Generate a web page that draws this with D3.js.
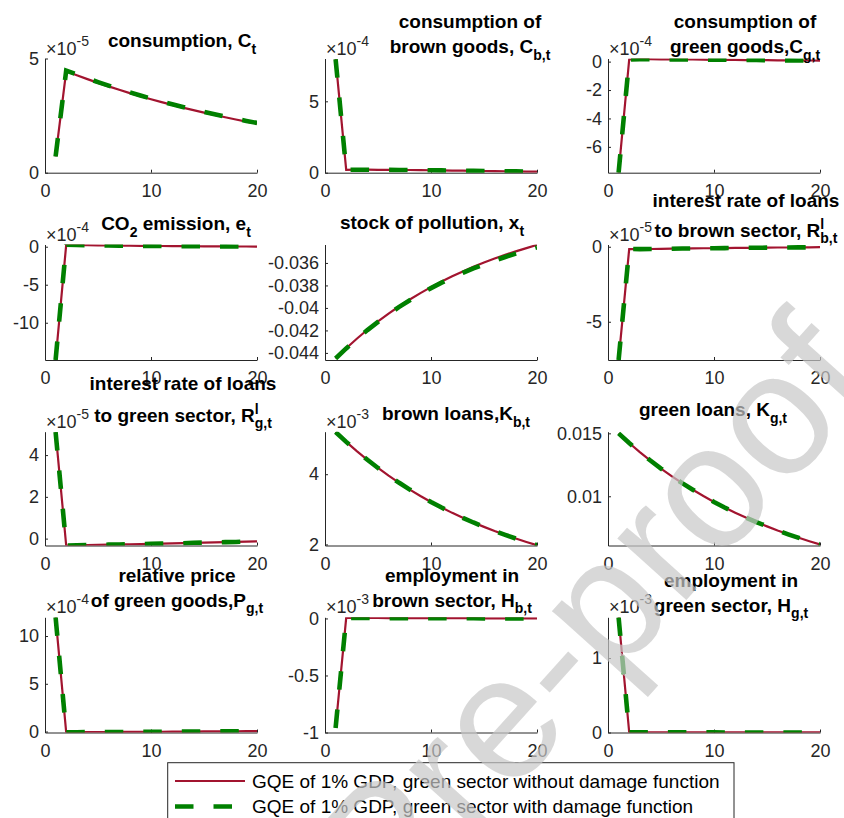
<!DOCTYPE html>
<html><head><meta charset="utf-8">
<script src="https://cdn.jsdelivr.net/npm/d3@7"></script>
<style>body{margin:0;background:#fff}svg{display:block}</style>
</head><body>
<script>
// ---------------- data ----------------
const periods = [1,2,3,4,5,6,7,8,9,10,11,12,13,14,15,16,17,18,19,20];
const xTicks = [0,10,20];

// consumption C_t (x1e-5)
const consNoDmg  = [0.71,4.44,4.265,4.096,3.934,3.779,3.630,3.486,3.349,3.216,3.089,2.967,2.850,2.737,2.629,2.525,2.426,2.330,2.238,2.150];
const consDmg    = [0.71,4.47,4.300,4.130,3.968,3.812,3.662,3.518,3.380,3.247,3.119,2.997,2.880,2.767,2.659,2.555,2.456,2.360,2.268,2.180];
// consumption of brown goods (x1e-4)
const consBrown  = [7.95,0.20,0.21,0.21,0.20,0.20,0.19,0.19,0.18,0.17,0.16,0.15,0.14,0.13,0.12,0.11,0.10,0.09,0.08,0.07];
// consumption of green goods (x1e-4)
const consGreen  = [-7.82,0.15,0.17,0.17,0.16,0.16,0.15,0.15,0.14,0.13,0.13,0.12,0.11,0.11,0.10,0.09,0.09,0.08,0.08,0.07];
// CO2 emission (x1e-4)
const emission   = [-14.9,0.25,0.22,0.20,0.18,0.16,0.14,0.13,0.11,0.10,0.09,0.08,0.07,0.06,0.05,0.05,0.04,0.03,0.03,0.02];
// stock of pollution
const pollNoDmg  = [-0.04450,-0.04359,-0.04274,-0.04194,-0.04120,-0.04050,-0.03985,-0.03925,-0.03868,-0.03815,-0.03765,-0.03719,-0.03675,-0.03634,-0.03596,-0.03561,-0.03528,-0.03497,-0.03468,-0.03440];
const pollDmg    = [-0.04450,-0.04360,-0.04276,-0.04197,-0.04124,-0.04055,-0.03991,-0.03932,-0.03876,-0.03824,-0.03775,-0.03730,-0.03688,-0.03649,-0.03613,-0.03579,-0.03547,-0.03517,-0.03489,-0.03462];
// interest rate of loans to brown sector (x1e-5)
const rateBrown  = [-7.55,-0.15,-0.16,-0.15,-0.14,-0.13,-0.12,-0.11,-0.10,-0.10,-0.09,-0.08,-0.07,-0.07,-0.06,-0.05,-0.05,-0.04,-0.04,-0.03];
// interest rate of loans to green sector (x1e-5)
const rateGreen  = [5.10,-0.33,-0.32,-0.31,-0.30,-0.29,-0.28,-0.27,-0.26,-0.25,-0.24,-0.23,-0.22,-0.20,-0.19,-0.18,-0.17,-0.16,-0.14,-0.13];
// brown loans (x1e-3)
const loansBrown = [5.200,4.920,4.658,4.411,4.178,3.960,3.755,3.562,3.381,3.210,3.050,2.899,2.758,2.625,2.500,2.382,2.272,2.168,2.070,1.978];
// green loans
const loansGreen = [0.01500,0.01423,0.01351,0.01284,0.01220,0.01160,0.01104,0.01052,0.01002,0.00955,0.00911,0.00870,0.00831,0.00795,0.00761,0.00728,0.00698,0.00670,0.00643,0.00618];
// relative price of green goods (x1e-4)
const priceGreen = [11.95,-0.08,-0.07,-0.06,-0.06,-0.05,-0.04,-0.04,-0.03,-0.02,-0.02,-0.01,-0.01,0.00,0.01,0.01,0.02,0.03,0.04,0.05];
// employment in brown sector (x1e-3)
const empBrown   = [-0.96,0.005,0.004,0.004,0.004,0.003,0.003,0.003,0.003,0.002,0.002,0.002,0.002,0.002,0.001,0.001,0.001,0.001,0.001,0.001];
// employment in green sector (x1e-3)
const empGreen   = [1.545,0.003,0.003,0.003,0.002,0.002,0.002,0.002,0.002,0.002,0.001,0.001,0.001,0.001,0.001,0.001,0.001,0.001,0.001,0.001];

const legendLabels = ["GQE of 1% GDP, green sector without damage function",
                      "GQE of 1% GDP, green sector with damage function"];

// panel definitions: series, y limits, y ticks, exponent, title
const panels = [
  {red:consNoDmg, green:consDmg,  dom:[0,5],            ticks:[0,5],          exp:"-5",
   title:[[["consumption, C"],["t","sub"]]]},
  {red:consBrown, green:consBrown, dom:[0,8.0],         ticks:[0,5],          exp:"-4",
   title:[[["consumption of"]],[["brown goods, C"],["b,t","sub"]]]},
  {red:consGreen, green:consGreen, dom:[-7.82,0.22],    ticks:[-6,-4,-2,0],   exp:"-4",
   title:[[["consumption of"]],[["green goods,C"],["g,t","sub"]]]},
  {red:emission,  green:emission,  dom:[-14.9,0.29],    ticks:[-10,-5,0],     exp:"-4",
   title:[[["CO"],["2","sub"],[" emission, e"],["t","sub"]]]},
  {red:pollNoDmg, green:pollDmg,   dom:[-0.04463,-0.03436], ticks:[-0.044,-0.042,-0.04,-0.038,-0.036], exp:null,
   title:[[["stock of pollution, x"],["t","sub"]]]},
  {red:rateBrown, green:rateBrown, dom:[-7.55,0.15],    ticks:[-5,0],         exp:"-5",
   title:[[["interest rate of loans"]],[["to brown sector, R"],["l","sup"],["b,t","subafter"]]]},
  {red:rateGreen, green:rateGreen, dom:[-0.33,5.12],    ticks:[0,2,4],        exp:"-5",
   title:[[["interest rate of loans"]],[["to green sector, R"],["l","sup"],["g,t","subafter"]]]},
  {red:loansBrown,green:loansBrown,dom:[1.97,5.21],     ticks:[2,4],          exp:"-3",
   title:[[["brown loans,K"],["b,t","sub"]]]},
  {red:loansGreen,green:loansGreen,dom:[0.00609,0.01513],ticks:[0.01,0.015],  exp:null,
   title:[[["green loans, K"],["g,t","sub"]]]},
  {red:priceGreen,green:priceGreen,dom:[-0.1,11.96],    ticks:[0,5,10],       exp:"-4",
   title:[[["relative price"]],[["of green goods,P"],["g,t","sub"]]]},
  {red:empBrown,  green:empBrown,  dom:[-1.0,0.01],     ticks:[-1,-0.5,0],    exp:"-3",
   title:[[["employment in"]],[["brown sector, H"],["b,t","sub"]]]},
  {red:empGreen,  green:empGreen,  dom:[0,1.547],       ticks:[0,1],          exp:"-3",
   title:[[["employment in"]],[["green sector, H"],["g,t","sub"]]]}
];

// ---------------- layout ----------------
const colX = [45, 325, 608], plotW = 212;
const rowTop = [58.5, 244.5, 431.7, 617.3];
const rowBot = [172.7, 360, 545.5, 732.5];
const titlePos = [
  [182,[47.3]], [470,[28.3,53.3]], [745,[28.3,53.3]],
  [176,[230]],  [432,[229]],       [746,[206.7,236.7]],
  [183,[390,421.7]], [456,[420]],  [713,[416]],
  [177,[581.7,606.7]], [452,[581.7,606.7]], [731,[586.7,611.7]]
];
const RED = "#A2142F", GREEN = "#008000", AX = "#262626";
const FONT = "'Liberation Sans', Arial, Helvetica, sans-serif";

const svg = d3.select("body").append("svg").attr("width",844).attr("height",818)
  .attr("font-family", FONT);
const defs = svg.append("defs");

function richText(sel, segs, size, subSize){
  let off = 0;
  segs.forEach(([txt, kind], k) => {
    const t = sel.append("tspan").text(txt);
    if (kind === "sub") { t.attr("font-size", subSize).attr("dy", 6.5 - off); off = 6.5; }
    else if (kind === "sup") { t.attr("font-size", subSize).attr("dy", -8 - off); off = -8; }
    else if (kind === "subafter") { t.attr("font-size", subSize).attr("dy", 6.5 - off).attr("dx", -subSize*0.278); off = 6.5; }
    else { t.attr("font-size", size); if (off !== 0) { t.attr("dy", -off); off = 0; } }
  });
}

panels.forEach((p, i) => {
  const c = i % 3, r = Math.floor(i / 3);
  const x0 = colX[c], x1 = x0 + plotW, y0 = rowTop[r], y1 = rowBot[r];
  const x = d3.scaleLinear().domain([0,20]).range([x0,x1]);
  const y = d3.scaleLinear().domain(p.dom).range([y1,y0]);

  // axes
  const gx = svg.append("g").attr("transform",`translate(0,${y1})`)
    .call(d3.axisBottom(x).tickValues(xTicks).tickSizeInner(-3).tickSizeOuter(0).tickPadding(11.7).tickFormat(d3.format("d")));
  const gy = svg.append("g").attr("transform",`translate(${x0},0)`)
    .call(d3.axisLeft(y).tickValues(p.ticks).tickSizeInner(-3).tickSizeOuter(0).tickPadding(6).tickFormat(d => String(d)));
  [gx, gy].forEach(g => {
    g.attr("font-family", FONT).attr("font-size", 18);
    g.selectAll("path.domain").attr("stroke", AX).attr("stroke-width", 1);
    g.selectAll("line").attr("stroke", AX).attr("stroke-width", 1);
    g.selectAll("text").attr("fill", AX);
  });

  // clip & lines
  const cid = "clip" + i;
  defs.append("clipPath").attr("id", cid).append("rect")
    .attr("x", x0).attr("y", y0).attr("width", x1 - x0).attr("height", y1 - y0);
  const line = d3.line().x((d, j) => x(periods[j])).y(d => y(d));
  svg.append("path").datum(p.red).attr("d", line).attr("fill","none")
    .attr("stroke", RED).attr("stroke-width", 2.2).attr("clip-path", `url(#${cid})`);
  svg.append("path").datum(p.green).attr("d", line).attr("fill","none")
    .attr("stroke", GREEN).attr("stroke-width", 4.6).attr("stroke-dasharray","18.5,20")
    .attr("clip-path", `url(#${cid})`);

  // exponent label
  if (p.exp) {
    const t = svg.append("text").attr("x", x0 + 1).attr("y", y0 - 4).attr("fill", AX);
    t.append("tspan").attr("font-size", 18).text("\u00D710");
    t.append("tspan").attr("font-size", 14).attr("dy", -9).text(p.exp);
  }

  // title
  const [cx, bls] = titlePos[i];
  p.title.forEach((segs, k) => {
    const t = svg.append("text").attr("x", cx).attr("y", bls[k]).attr("text-anchor","middle")
      .attr("font-weight","bold").attr("fill","#000");
    richText(t, segs, 19, 14);
  });
});

// ---------------- legend ----------------
const lg = svg.append("g");
lg.append("rect").attr("x",167.7).attr("y",762.7).attr("width",566.3).attr("height",80)
  .attr("fill","#fff").attr("stroke",AX).attr("stroke-width",1);
[[RED,2.2,null,781],[GREEN,4.6,"18.5,20",806.5]].forEach(([col,w,dash,yy],k) => {
  const l = lg.append("line").attr("x1",175).attr("x2",245).attr("y1",yy).attr("y2",yy)
    .attr("stroke",col).attr("stroke-width",w);
  if (dash) l.attr("stroke-dasharray",dash);
  lg.append("text").attr("x",252).attr("y",yy+6.6).attr("font-size",19).attr("fill","#000")
    .text(legendLabels[k]);
});

// ---------------- watermark ----------------
svg.append("text").attr("transform","translate(880,385) rotate(-48)")
  .attr("text-anchor","end").attr("font-size",175).attr("font-family",FONT)
  .attr("fill","#c8c8c8").attr("fill-opacity",0.7).text("Journal Pre-proof");
</script>
</body></html>
